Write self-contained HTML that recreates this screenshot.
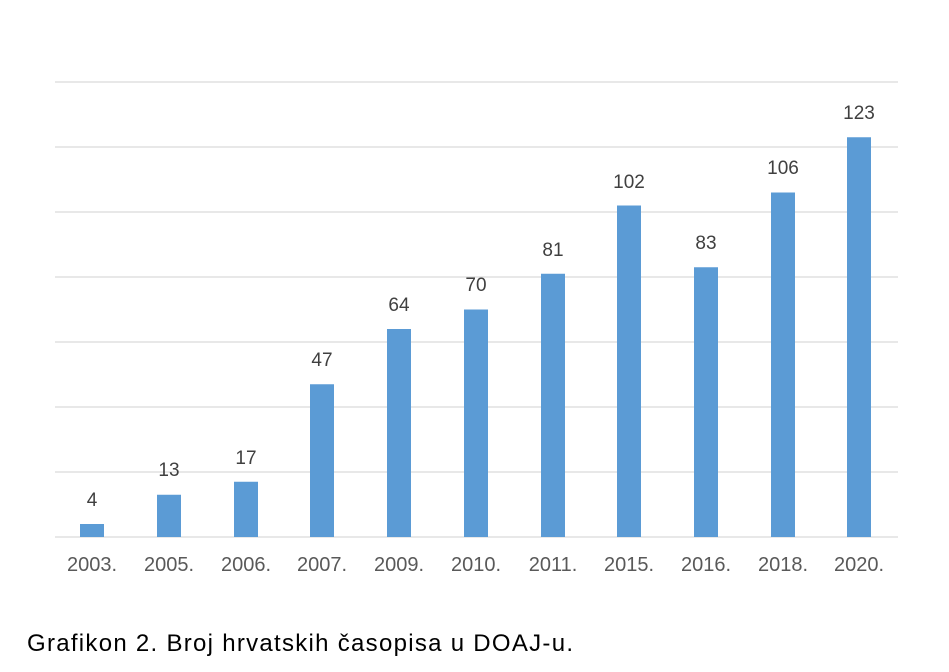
<!DOCTYPE html>
<html><head><meta charset="utf-8"><style>
body{margin:0;background:#fff;}
svg{display:block;font-family:"Liberation Sans",Calibri,sans-serif;}
</style></head><body>
<svg width="949" height="672" xmlns="http://www.w3.org/2000/svg">
<g stroke="#d9d9d9" stroke-width="1.3">
<line x1="55" x2="898" y1="82" y2="82"/>
<line x1="55" x2="898" y1="147" y2="147"/>
<line x1="55" x2="898" y1="212" y2="212"/>
<line x1="55" x2="898" y1="277" y2="277"/>
<line x1="55" x2="898" y1="342" y2="342"/>
<line x1="55" x2="898" y1="407" y2="407"/>
<line x1="55" x2="898" y1="472" y2="472"/>
<line x1="55" x2="898" y1="537" y2="537"/>
</g>
<g fill="#5b9bd5">
<rect x="80" y="524" width="24" height="13"/>
<rect x="157" y="494.75" width="24" height="42.25"/>
<rect x="234" y="481.75" width="24" height="55.25"/>
<rect x="310" y="384.25" width="24" height="152.75"/>
<rect x="387" y="329" width="24" height="208"/>
<rect x="464" y="309.5" width="24" height="227.5"/>
<rect x="541" y="273.75" width="24" height="263.25"/>
<rect x="617" y="205.5" width="24" height="331.5"/>
<rect x="694" y="267.25" width="24" height="269.75"/>
<rect x="771" y="192.5" width="24" height="344.5"/>
<rect x="847" y="137.25" width="24" height="399.75"/>
</g>
<g fill="#404040" font-size="19" text-anchor="middle">
<text x="92" y="506">4</text>
<text x="169" y="476">13</text>
<text x="246" y="464">17</text>
<text x="322" y="366">47</text>
<text x="399" y="311">64</text>
<text x="476" y="291">70</text>
<text x="553" y="256">81</text>
<text x="629" y="188">102</text>
<text x="706" y="249">83</text>
<text x="783" y="174">106</text>
<text x="859" y="119">123</text>
</g>
<g fill="#595959" font-size="20" text-anchor="middle">
<text x="92" y="571">2003.</text>
<text x="169" y="571">2005.</text>
<text x="246" y="571">2006.</text>
<text x="322" y="571">2007.</text>
<text x="399" y="571">2009.</text>
<text x="476" y="571">2010.</text>
<text x="553" y="571">2011.</text>
<text x="629" y="571">2015.</text>
<text x="706" y="571">2016.</text>
<text x="783" y="571">2018.</text>
<text x="859" y="571">2020.</text>
</g>
<text x="27" y="651" font-size="24" fill="#000" textLength="546" lengthAdjust="spacing">Grafikon 2. Broj hrvatskih časopisa u DOAJ-u.</text>
</svg>
</body></html>
